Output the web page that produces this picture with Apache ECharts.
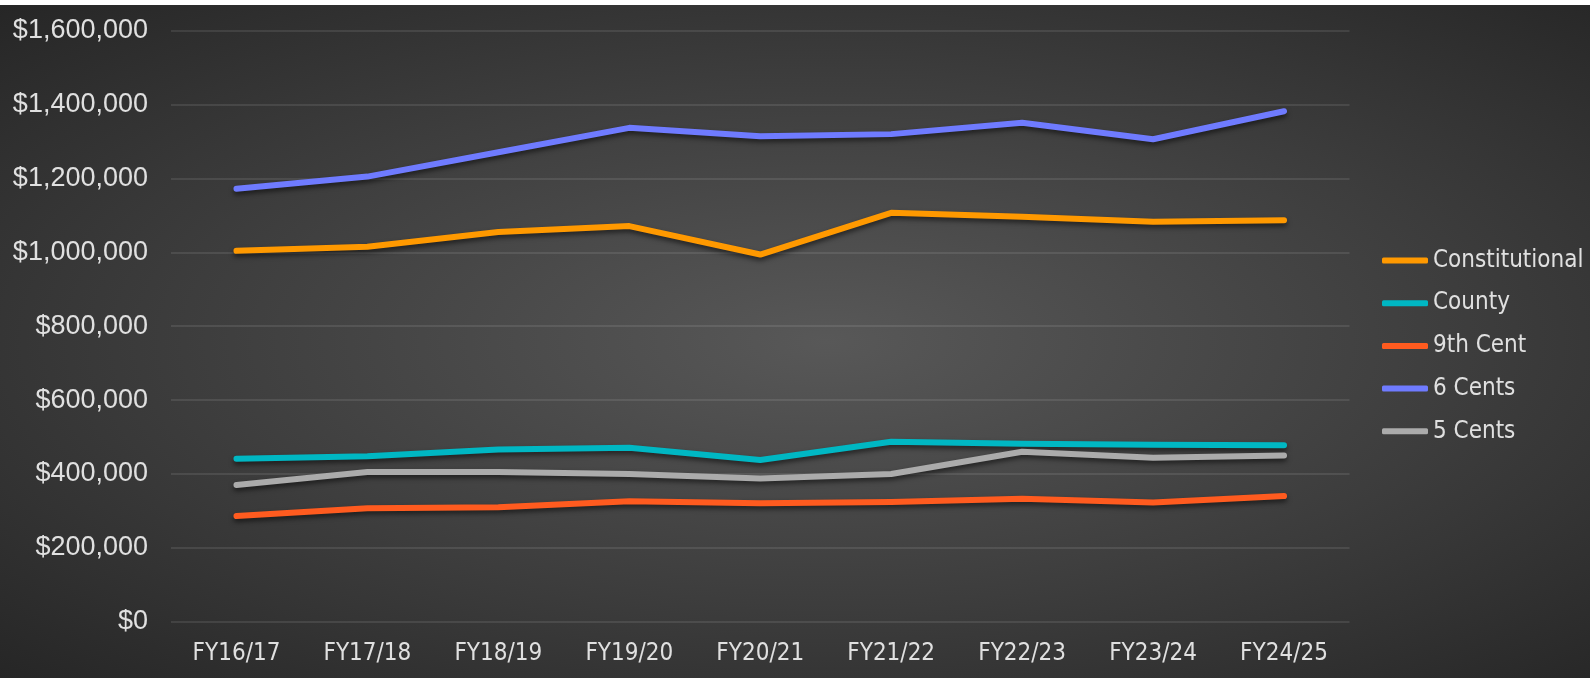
<!DOCTYPE html>
<html>
<head>
<meta charset="utf-8">
<script src="https://cdn.jsdelivr.net/npm/echarts@6/dist/echarts.min.js"></script>
<style>
  html, body { margin: 0; padding: 0; background: #ffffff; }
  #bg { position: absolute; left: 0; top: 5px; width: 1590px; height: 673px;
        background: radial-gradient(ellipse at 52% 50%, #585858 0%, #3d3d3d 55%, #262626 100%); }
  #chart { position: absolute; left: 0; top: 0; width: 1590px; height: 678px; }
</style>
</head>
<body>
<div id="bg"></div>
<div id="chart"></div>
<script>
const categories = ['FY16/17','FY17/18','FY18/19','FY19/20','FY20/21','FY21/22','FY22/23','FY23/24','FY24/25'];
const constitutional = [1004000, 1015000, 1055000, 1071000, 994000, 1107000, 1096000, 1083000, 1087000];
const county = [441000, 448000, 466000, 471000, 438000, 487000, 482000, 479000, 478000];
const ninthCent = [286000, 307000, 310000, 326000, 321000, 324000, 333000, 323000, 340000];
const sixCents = [1172000, 1205000, 1271000, 1337000, 1314000, 1320000, 1351000, 1306000, 1382000];
const fiveCents = [370000, 405000, 405000, 400000, 388000, 400000, 460000, 444000, 450000];
const seriesNames = ['Constitutional', 'County', '9th Cent', '6 Cents', '5 Cents'];
const seriesColors = ['#FF9900', '#00B7C3', '#FF5B1F', '#6F7BFF', '#ABABAB'];
const seriesData = [constitutional, county, ninthCent, sixCents, fiveCents];

const chart = echarts.init(document.getElementById('chart'), null, { renderer: 'canvas' });
const condensed = '"DejaVu Sans Condensed", "Liberation Sans Narrow", "DejaVu Sans", sans-serif';

chart.setOption({
  backgroundColor: 'transparent',
  animation: false,
  grid: { left: 171, right: 240.5, top: 30.7, bottom: 56.3, containLabel: false },
  xAxis: {
    type: 'category',
    data: categories,
    boundaryGap: true,
    axisLine: { show: false },
    axisTick: { show: false },
    axisLabel: { color: '#e0e0e0', fontSize: 24, fontFamily: condensed, margin: 20 }
  },
  yAxis: {
    type: 'value',
    min: 0, max: 1600000, interval: 200000,
    axisLine: { show: false },
    axisTick: { show: false },
    splitLine: { lineStyle: { color: 'rgba(255,255,255,0.13)', width: 1.5 } },
    axisLabel: {
      color: '#e0e0e0', fontSize: 27, fontFamily: '"Liberation Sans", Arial, sans-serif', margin: 23,
      formatter: v => '$' + v.toLocaleString('en-US')
    }
  },
  legend: {
    orient: 'vertical',
    left: 1377, top: 240.5,
    icon: 'roundRect',
    itemWidth: 46, itemHeight: 6,
    itemGap: 12.7,
    data: seriesNames,
    textStyle: { color: '#e0e0e0', fontSize: 24, fontFamily: condensed, lineHeight: 30 }
  },
  series: seriesNames.map((name, i) => ({
    name: name,
    type: 'line',
    data: seriesData[i],
    symbol: 'none',
    color: seriesColors[i],
    itemStyle: { color: seriesColors[i] },
    lineStyle: {
      width: 6, color: seriesColors[i], cap: 'round', join: 'round',
      shadowColor: 'rgba(0,0,0,0.55)', shadowBlur: 5, shadowOffsetY: 3
    }
  }))
});
</script>
</body>
</html>
